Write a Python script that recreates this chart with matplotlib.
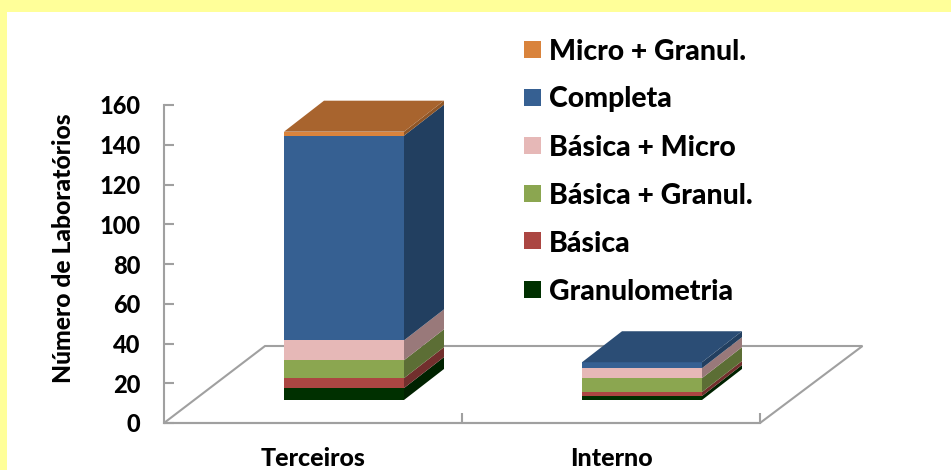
import matplotlib
matplotlib.use("Agg")
import matplotlib.pyplot as plt
from matplotlib.patches import Polygon, Rectangle

categories = ["Terceiros", "Interno"]
series_names = ["Granulometria", "Básica", "Básica + Granul.", "Básica + Micro", "Completa", "Micro + Granul."]
granulometria = [6, 2]
basica = [5, 2]
basica_granul = [9, 7]
basica_micro = [10, 5]
completa = [103, 3]
micro_granul = [2, 0]
series_values = [granulometria, basica, basica_granul, basica_micro, completa, micro_granul]
yticks = [0, 20, 40, 60, 80, 100, 120, 140, 160]

front = ["#003000", "#AB4642", "#8BA650", "#E6B8B7", "#366092", "#D9833C"]
side = ["#002200", "#722F2D", "#5C6E35", "#99797A", "#223F60", "#8F5627"]
top = ["#002800", "#8F3B38", "#748A43", "#C09998", "#2B4D75", "#A8642E"]

W, H = 951, 470
plt.rcParams['font.family'] = ['Lato', 'DejaVu Sans']
plt.rcParams['font.weight'] = 'bold'
TW = 900
fig = plt.figure(figsize=(W / 100, H / 100), dpi=100, facecolor="#FFFF99")
bg = fig.add_axes([7 / W, 0, 1 - 7 / W, 1 - 12 / H])
bg.set_axis_off()
bg.add_patch(Rectangle((0, 0), 1, 1, transform=bg.transAxes, fc="white", ec="none"))

left, right, y0, y160 = 164, 760, 423, 105
ax = fig.add_axes([left / W, 1 - y0 / H, (right - left) / W, (y0 - y160) / H])
ax.patch.set_alpha(0)
ax.set_xlim(0, 2)
ax.set_ylim(0, 160)
xu = (right - left) / 2      # px per category
yu = (y0 - y160) / 160       # px per value
gridc = "#A0A0A0"
# floor
fx, fy = 101 / xu, 77 / yu
ax.add_patch(Polygon([(0, 0), (fx, fy), (2 + fx + 1.5 / xu, fy), (2, 0)], closed=True, fc="none",
                     ec=gridc, lw=1.5, clip_on=False, zorder=1))
# bars
ox, oy = 31 / xu, 23 / yu      # front-face offset from the floor front
dx, dy = 40 / xu, 31 / yu      # bar depth
bw = 120 / xu
for i in range(len(categories)):
    x0 = i + 0.5 + ox - bw / 2
    x1 = x0 + bw
    b = oy
    last = max(k for k, s in enumerate(series_values) if s[i] > 0)
    for k, s in enumerate(series_values):
        v = s[i]
        if v == 0:
            continue
        t = b + v
        ax.add_patch(Polygon([(x1, b), (x1 + dx, b + dy), (x1 + dx, t + dy), (x1, t)], fc=side[k], ec="none",
                             clip_on=False, zorder=3))
        ax.add_patch(Rectangle((x0, b), bw, v, fc=front[k], ec="none", clip_on=False, zorder=4))
        if k == last:
            ax.add_patch(Polygon([(x0, t), (x0 + dx, t + dy), (x1 + dx, t + dy), (x1, t)], fc=top[k], ec="none",
                                 clip_on=False, zorder=4))
        b = t

for s in ("top", "right"):
    ax.spines[s].set_visible(False)
for s in ("left", "bottom"):
    ax.spines[s].set_color(gridc)
    ax.spines[s].set_linewidth(1.5)
ax.set_yticks(yticks)
ax.set_yticklabels([str(v) for v in yticks], fontsize=17, fontweight=TW, color="black")
ax.tick_params(axis="y", direction="in", length=7, width=1.5, color=gridc, pad=17)
ax.set_xticks([1, 2])
ax.set_xticklabels([])
ax.tick_params(axis="x", direction="in", length=7, width=1.5, color=gridc)
ax.set_xticks([0.5, 1.5], minor=True)
ax.set_xticklabels(categories, minor=True, fontsize=18, fontweight=TW)
ax.tick_params(axis="x", which="minor", length=0, pad=17)
ax.set_ylabel("Número de Laboratórios", fontsize=17.8, fontweight=TW)
ax.yaxis.set_label_coords((75 - left) / (right - left), (y0 - 248.5) / (y0 - y160))

# legend
ys = [289, 241, 193, 145, 97, 49]
for name, c, yp in zip(series_names, front, ys):
    fig.patches.append(Rectangle((524 / W, 1 - (yp + 8.5) / H), 17 / W, 17 / H, transform=fig.transFigure,
                                 fc=c, ec="none"))
    fig.text(549 / W, 1 - yp / H, name, fontsize=20.4, fontweight=TW, va="center_baseline", ha="left")

fig.savefig("out.png", dpi=100, facecolor=fig.get_facecolor())
